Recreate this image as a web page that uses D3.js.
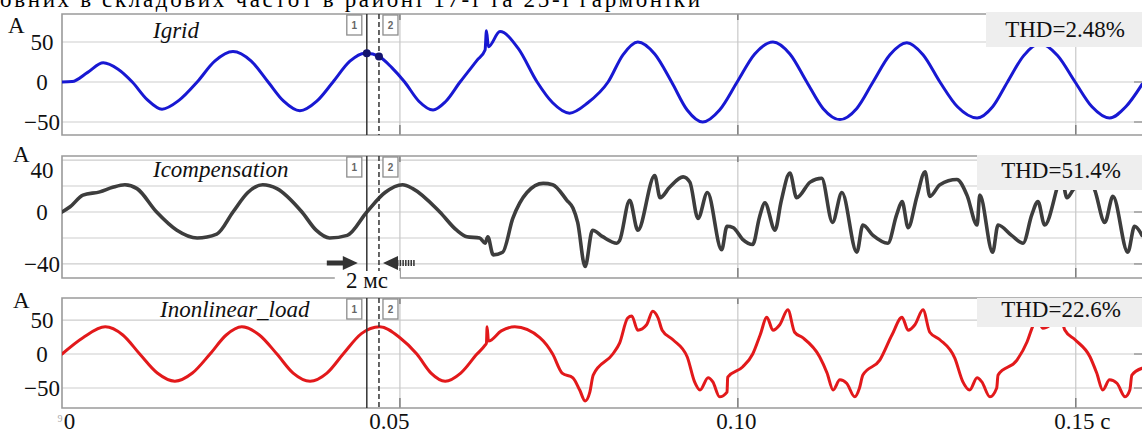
<!DOCTYPE html>
<html>
<head>
<meta charset="utf-8">
<script src="https://cdn.jsdelivr.net/npm/d3@7"></script>
<style>
	body { margin: 0; background: #fff; }
	svg { display: block; font-family: 'Liberation Serif', 'Times New Roman', serif; }
</style>
</head>
<body>
<div id="chart"></div>
<script>
// time in ms, current in A
const igrid = [
	[0, 0], [1.5, 0.5], [3.8, 12], [6.1, 24], [8.3, 16], [10.4, 0], [12.6, -22], [14.8, -34], [17.3, -23],
	[20.0, 0], [22.6, 26], [25.3, 38], [28.0, 26], [30.5, 0], [32.8, -24], [35.2, -36], [37.7, -24],
	[40.1, 0], [42.6, 26], [44.8, 36], [45.1, 36], [46.9, 32], [48.8, 18], [50.7, 0], [52.8, -24],
	[54.9, -35], [56.7, -25], [58.9, 0], [61.4, 27], [62.6, 40], [62.8, 64], [63.1, 44], [64.8, 63],
	[67.5, 42], [70.3, 0], [72.6, -26], [75.1, -39], [77.8, -26], [80.8, 0], [83.0, 34], [85.2, 50],
	[87.7, 35], [90.2, 0], [92.5, -35], [94.8, -50], [97.3, -35], [99.9, 0], [102.5, 35], [105.2, 50],
	[107.7, 35], [110.2, 0], [112.6, -33], [115.1, -47], [117.6, -33], [120.0, 0], [122.5, 34], [125.0, 49],
	[127.4, 34], [129.9, 0], [132.5, -31], [135.4, -45], [137.7, -31], [139.9, 0], [142.3, 33], [144.7, 48],
	[147.3, 33], [149.9, 0], [152.4, -31], [155.0, -45], [157.4, -31], [159.8, -3]
];

const icompensation = [
	[0, 0], [1.2, 4], [3.1, 13], [5.6, 15.5], [7.5, 19], [9.3, 21], [11.1, 18], [14.0, 0], [17.0, -14],
	[20.0, -20], [22.9, -17], [25.3, 0], [27.5, 15], [29.7, 21], [31.8, 18], [35.5, 0], [37.6, -14],
	[39.6, -20], [42.2, -18], [45.1, 0], [47.8, 15], [50.4, 21], [51.9, 18], [55.9, 0], [58.4, -14],
	[59.9, -19], [61.8, -20], [62.6, -24], [63.0, -19], [63.8, -33], [65.2, -31], [66.7, -5], [68.8, 15],
	[71.2, 22], [72.6, 21], [74.7, 9], [75.6, 3], [76.3, -8], [77.4, -42], [78.5, -14], [80.0, -19],
	[82.1, -24], [82.5, -22], [84.0, 9], [85.2, -14], [87.7, 28], [88.5, 11], [89.9, 19], [91.9, 27],
	[92.9, 23], [94.1, -5], [95.5, 15], [97.6, -29], [98.4, -11], [99.3, -12], [100.7, -21], [102.2, -25],
	[103.2, -4], [104.0, 7], [105.5, -14], [106.4, 8], [107.7, 30], [108.7, 11], [110.7, 23], [112.4, 26],
	[114.0, -8], [115.4, 15], [117.6, -31], [118.5, -10], [120.0, -18], [122.2, -24], [123.5, -2], [124.3, 8],
	[125.2, -12], [126.5, 12], [127.7, 31], [128.4, 12], [129.9, 21], [132.4, 25], [133.9, 13], [135.4, -10],
	[135.8, 13], [137.7, -31], [138.5, -10], [140.5, -18], [142.2, -24], [143.5, -2], [144.4, 8], [145.4, -10],
	[147.2, 18], [147.8, 30], [148.7, 11], [149.6, 17], [152.0, 26], [152.8, 17], [154.3, -8], [155.5, 12],
	[157.7, -31], [158.7, -11], [159.8, -18]
];

const inonlinearLoad = [
	[0, 0], [3.1, 24], [6.4, 40], [9.0, 28], [11.5, 0], [14.1, -28], [16.7, -40], [19.3, -28], [21.9, 0],
	[24.3, 28], [26.6, 40], [29.2, 28], [31.8, 0], [34.2, -28], [36.7, -40], [39.2, -28], [41.6, 0],
	[44.3, 30], [47.0, 40], [50.0, 24], [52.5, 0], [54.6, -28], [56.7, -40], [59.0, -28], [61.4, 0],
	[62.6, 13], [62.8, 16], [62.9, 40], [63.1, 19], [65.0, 34], [67.0, 40], [70.7, 24], [72.6, 0],
	[74.0, -28], [75.6, -35], [76.6, -53], [77.4, -69], [78.1, -56], [78.6, -31], [81.5, 0], [82.5, 16],
	[83.7, 53], [84.3, 56], [85.2, 35], [86.5, 43], [87.4, 63], [88.2, 53], [88.8, 35], [90.4, 21],
	[92.5, -4], [93.6, -41], [94.4, -53], [95.6, -35], [96.3, -41], [97.3, -63], [98.4, -56], [98.5, -34],
	[100.7, -19], [102.2, 0], [103.3, 28], [104.3, 54], [105.2, 35], [106.2, 43], [107.4, 65], [108.4, 32],
	[109.6, 24], [112.1, -4], [113.2, -28], [114.1, -53], [115.1, -38], [116.1, -43], [117.3, -63], [118.0, -50],
	[118.5, -31], [121.0, -9], [122.8, 28], [124.3, 54], [125.2, 35], [126.2, 43], [127.4, 65], [128.4, 32],
	[129.9, 21], [132.1, -6], [133.3, -41], [134.3, -53], [135.4, -35], [136.1, -41], [137.3, -63], [138.3, -50],
	[138.5, -31], [141.3, -9], [142.8, 18], [143.6, 40], [144.3, 54], [145.1, 38], [146.2, 43], [147.4, 65],
	[148.4, 35], [149.9, 21], [152.1, -4], [153.1, -28], [154.0, -53], [155.0, -38], [156.1, -43], [157.3, -63],
	[158.0, -53], [158.3, -31], [159.8, -21]
];

const timeTicks = [0, 50, 100, 150];
const timeTickLabels = ['0', '0.05', '0.10', '0.15 c'];
const cursorTimes = [45.1, 46.9];
const cursorIgrid = [36, 32];

const panelNames = ['Igrid', 'Icompensation', 'Inonlinear_load'];
const thdLabels = ['THD=2.48%', 'THD=51.4%', 'THD=22.6%'];
const yTickValues = [[50, 0, -50], [40, 0, -40], [50, 0, -50]];
const yGridValues = [[50, 0, -50], [40, 20, 0, -20, -40], [50, 0, -50]];
const yDomains = [[-66.25, 85], [-50.8, 43.1], [-79.4, 82.4]];

const series = [igrid, icompensation, inonlinearLoad];

const width = 1142;
const height = 435;
const left = 62;

const layout = [
	{ top: 14, bottom: 135, color: '#1818d2', lw: 3, titleX: 153, titleY: 38, unitX: 8, unitY: 33,
		thd: { x: 986, y: 12, h: 35, tx: 1065, ty: 37 } },
	{ top: 156, bottom: 278, color: '#3d3d3d', lw: 3.6, titleX: 153, titleY: 177, unitX: 13, unitY: 162,
		thd: { x: 977, y: 155, h: 35, tx: 1061, ty: 178 } },
	{ top: 298, bottom: 408, color: '#e2191b', lw: 3, titleX: 160, titleY: 317, unitX: 13, unitY: 308,
		thd: { x: 977, y: 298, h: 29, tx: 1061, ty: 317 } }
];

const svg = d3.select('#chart')
	.append('svg')
	.attr('width', width)
	.attr('height', height);

svg.append('rect')
	.attr('width', width)
	.attr('height', height)
	.attr('fill', '#fff');

const x = d3.scaleLinear()
	.domain([0, 159.8])
	.range([left, width]);

// bottom of the text line above the figure, cut by the crop
svg.append('text')
	.attr('x', 0)
	.attr('y', 7)
	.attr('font-size', 23)
	.attr('textLength', 700)
	.attr('lengthAdjust', 'spacing')
	.text('овних в складових частот в районі 17-ї та 25-ї гармоніки');

series.forEach((data, i) => {
	const p = layout[i];
	const g = svg.append('g');

	const y = d3.scaleLinear()
		.domain(yDomains[i])
		.range([p.bottom, p.top]);

	g.selectAll('line.hgrid')
		.data(yGridValues[i])
		.enter()
		.append('line')
		.attr('class', 'hgrid')
		.attr('x1', left)
		.attr('x2', width)
		.attr('y1', (d) => y(d))
		.attr('y2', (d) => y(d))
		.attr('stroke', '#cdcdcd')
		.attr('stroke-width', 1.2);

	g.selectAll('line.rtick')
		.data(yTickValues[i])
		.enter()
		.append('line')
		.attr('class', 'rtick')
		.attr('x1', width - 8)
		.attr('x2', width)
		.attr('y1', (d) => y(d))
		.attr('y2', (d) => y(d))
		.attr('stroke', '#8a8a8a')
		.attr('stroke-width', 1.2);

	const vticks = timeTicks.slice(1);

	g.selectAll('line.vgrid')
		.data(vticks)
		.enter()
		.append('line')
		.attr('class', 'vgrid')
		.attr('x1', (d) => x(d))
		.attr('x2', (d) => x(d))
		.attr('y1', p.top)
		.attr('y2', p.bottom)
		.attr('stroke', '#c8c8c8')
		.attr('stroke-width', 1.2);

	g.selectAll('path.vtick')
		.data(vticks)
		.enter()
		.append('path')
		.attr('class', 'vtick')
		.attr('d', (d) => `M${x(d)},${p.top}v6M${x(d)},${p.bottom - 10}v10`)
		.attr('stroke', '#808080')
		.attr('stroke-width', 1.5);

	g.append('path')
		.attr('d', `M${width},${p.top}H${left}V${p.bottom}H${width}`)
		.attr('fill', 'none')
		.attr('stroke', '#9a9a9a')
		.attr('stroke-width', 1.6);

	const clipId = 'clip' + i;
	svg.append('clipPath')
		.attr('id', clipId)
		.append('rect')
		.attr('x', left)
		.attr('y', p.top)
		.attr('width', width - left)
		.attr('height', p.bottom - p.top);

	const line = d3.line()
		.x((d) => x(d[0]))
		.y((d) => y(d[1]))
		.curve(d3.curveMonotoneX);

	g.append('path')
		.datum(data)
		.attr('clip-path', `url(#${clipId})`)
		.attr('d', line)
		.attr('fill', 'none')
		.attr('stroke', p.color)
		.attr('stroke-width', p.lw)
		.attr('stroke-linejoin', 'round')
		.attr('stroke-linecap', 'round');

	// measurement cursors
	cursorTimes.forEach((t, k) => {
		g.append('line')
			.attr('x1', x(t))
			.attr('x2', x(t))
			.attr('y1', p.top)
			.attr('y2', p.bottom)
			.attr('stroke', '#333')
			.attr('stroke-width', 1.5)
			.attr('stroke-dasharray', k ? '5,3' : null);

		const bx = k ? x(t) + 4 : x(t) - 20;
		g.append('rect')
			.attr('x', bx)
			.attr('y', p.top + 1)
			.attr('width', 15)
			.attr('height', 20)
			.attr('fill', '#fff')
			.attr('stroke', '#8c8c8c')
			.attr('stroke-width', 1.3);

		g.append('text')
			.attr('x', bx + 7.5)
			.attr('y', p.top + 15)
			.attr('text-anchor', 'middle')
			.attr('font-family', 'Arial, "Liberation Sans", sans-serif')
			.attr('font-size', 10)
			.attr('font-weight', 'bold')
			.attr('fill', '#666')
			.text(k + 1);

		if (i === 0) {
			g.append('circle')
				.attr('cx', x(t))
				.attr('cy', y(cursorIgrid[k]))
				.attr('r', 4)
				.attr('fill', '#14146e');
		}
	});

	g.append('rect')
		.attr('x', p.thd.x)
		.attr('y', p.thd.y)
		.attr('width', width - p.thd.x)
		.attr('height', p.thd.h)
		.attr('fill', '#eeeeee');

	g.append('text')
		.attr('x', p.thd.tx)
		.attr('y', p.thd.ty)
		.attr('text-anchor', 'middle')
		.attr('font-size', 23)
		.attr('fill', '#111')
		.text(thdLabels[i]);

	g.append('text')
		.attr('x', p.titleX)
		.attr('y', p.titleY)
		.attr('font-size', 23)
		.attr('font-style', 'italic')
		.attr('fill', '#111')
		.text(panelNames[i]);

	g.append('text')
		.attr('x', p.unitX)
		.attr('y', p.unitY)
		.attr('font-size', 23)
		.attr('fill', '#111')
		.text('A');

	const yAxis = g.append('g')
		.attr('transform', `translate(${left},0)`)
		.call(d3.axisLeft(y).tickValues(yTickValues[i]).tickSize(0).tickPadding(20));

	yAxis.select('.domain').remove();
	yAxis.attr('font-family', null)
		.attr('font-size', 23)
		.attr('text-anchor', 'middle');
	yAxis.selectAll('text')
		.attr('fill', '#111')
		.attr('dy', (d) => (i === 1 && d === 40) ? '0.75em' : '0.32em');
});

// 2 ms annotation between the cursors
const ay = 263;
const c1 = x(cursorTimes[0]);
const c2 = x(cursorTimes[1]);

svg.append('line')
	.attr('x1', c1 - 40)
	.attr('x2', c1 - 20)
	.attr('y1', ay)
	.attr('y2', ay)
	.attr('stroke', '#333')
	.attr('stroke-width', 5);

svg.append('path')
	.attr('d', `M${c1 - 24},${ay - 7}L${c1 - 9},${ay}L${c1 - 24},${ay + 7}Z`)
	.attr('fill', '#333');

svg.append('path')
	.attr('d', `M${c2 + 4},${ay}L${c2 + 19},${ay - 7}L${c2 + 19},${ay + 7}Z`)
	.attr('fill', '#333');

svg.append('line')
	.attr('x1', c2 + 18)
	.attr('x2', c2 + 36)
	.attr('y1', ay)
	.attr('y2', ay)
	.attr('stroke', '#333')
	.attr('stroke-width', 6)
	.attr('stroke-dasharray', '1.5,1.2');

svg.append('rect')
	.attr('x', c1 - 32)
	.attr('y', 271)
	.attr('width', 65)
	.attr('height', 23)
	.attr('fill', '#fff');

svg.append('text')
	.attr('x', (c1 + c2) / 2 - 6)
	.attr('y', 288)
	.attr('text-anchor', 'middle')
	.attr('font-size', 23)
	.attr('fill', '#111')
	.text('2 мс');

// time axis under the last panel
const tickShift = [7, -11, -2, 6];
const xAxis = svg.append('g')
	.attr('transform', `translate(0,${layout[2].bottom})`)
	.call(d3.axisBottom(x)
		.tickValues(timeTicks)
		.tickSize(0)
		.tickPadding(5)
		.tickFormat((d, k) => timeTickLabels[k]));

xAxis.select('.domain').remove();
xAxis.attr('font-family', null)
	.attr('font-size', 23);
xAxis.selectAll('text')
	.attr('fill', '#111')
	.attr('dx', (d, k) => tickShift[k]);

svg.append('text')
	.attr('x', 60)
	.attr('y', 422)
	.attr('text-anchor', 'middle')
	.attr('font-size', 10)
	.attr('fill', '#aaa')
	.text('9');
</script>
</body>
</html>
